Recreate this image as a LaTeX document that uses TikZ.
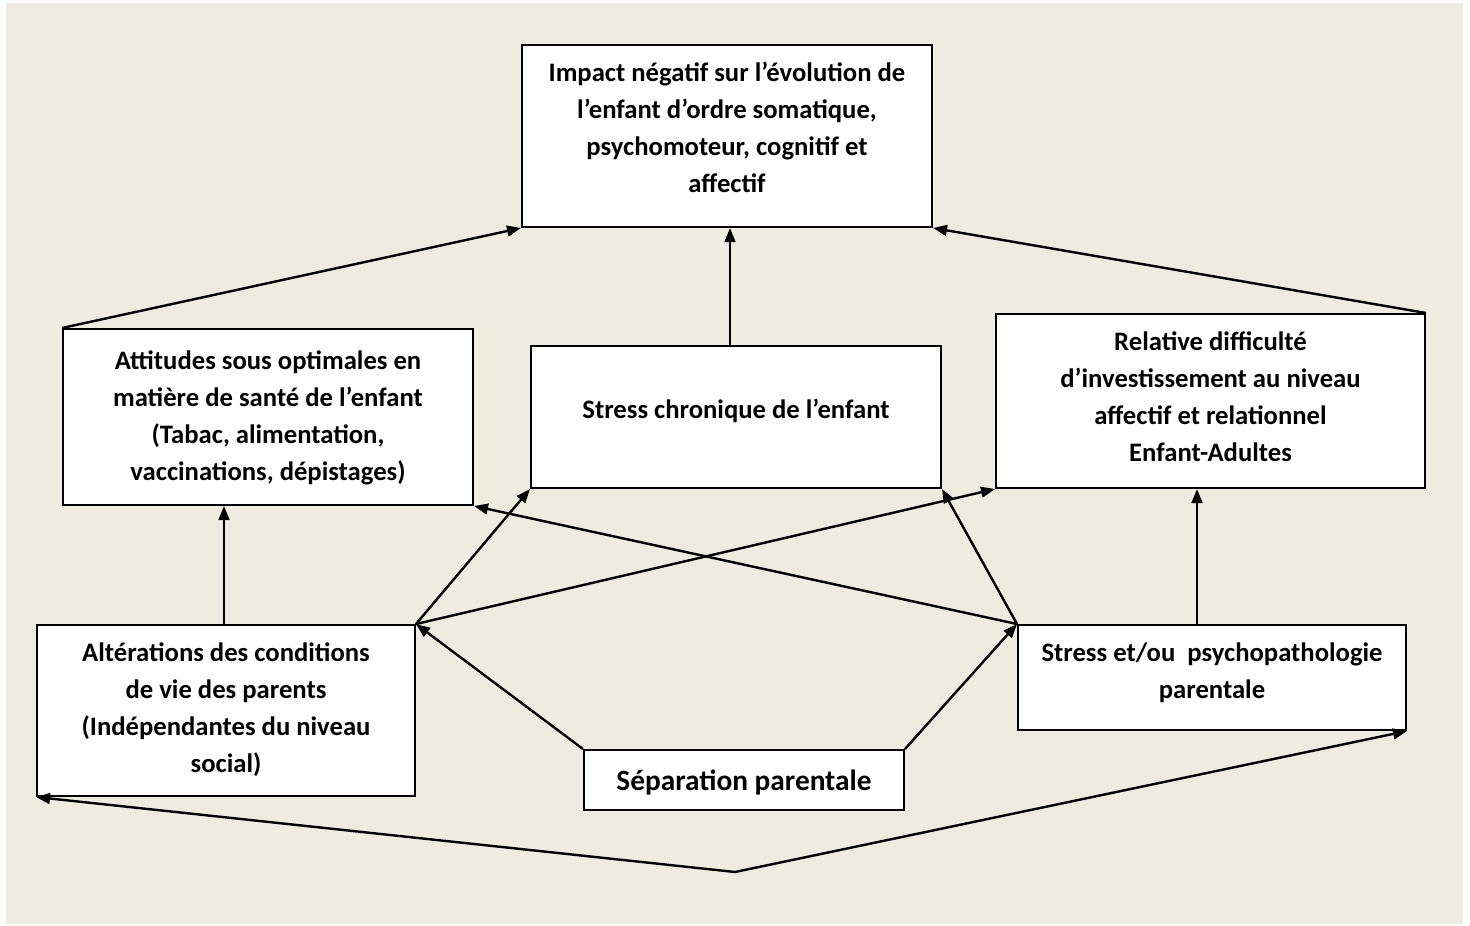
\documentclass[tikz,border=0pt]{standalone}
\usepackage{fontspec}
\setmainfont{Carlito}
\usetikzlibrary{arrows.meta,calc}

\definecolor{paper}{RGB}{238,235,224}

% text block of a box: width, height, first baseline offset, lines
\newcommand\boxtxt[4]{\parbox[t][#2][t]{#1}{\centering\rule{0pt}{#3}#4}}

\begin{document}
\begin{tikzpicture}[x=0.75pt,y=-0.75pt,
  box/.style={draw=black,fill=white,line width=1.5pt,inner sep=0pt,
    anchor=north west,font=\fontsize{20}{27.75}\selectfont\bfseries},
  link/.style={line width=1.8pt,-{Triangle[length=10.5pt,width=8pt]}}]

% page and beige field
\useasboundingbox (0,0) rectangle (1470,925);
\fill[white] (0,0) rectangle (1470,925);
\fill[paper] (6,3) rectangle (1463,924);

% boxes
\node[box] (imp) at (521,44) {\boxtxt{307.5pt}{136.5pt}{27.5pt}{%
  Impact négatif sur l’évolution de\\l’enfant d’ordre somatique,\\psychomoteur, cognitif et\\affectif}};
\node[box] (att) at (62,328) {\boxtxt{307.5pt}{132pt}{30pt}{%
  Attitudes sous optimales en\\matière de santé de l’enfant\\(Tabac, alimentation,\\vaccinations, dépistages)}};
\node[box] (chr) at (530,345) {\boxtxt{307.5pt}{106.5pt}{54.5pt}{%
  Stress chronique de l’enfant}};
\node[box] (rel) at (995,313) {\boxtxt{321.75pt}{130.5pt}{27.5pt}{%
  Relative difficulté\\d’investissement au niveau\\affectif et relationnel\\Enfant-Adultes}};
\node[box] (alt) at (36,624) {\boxtxt{283.5pt}{128.25pt}{27.5pt}{%
  Altérations des conditions\\de vie des parents\\(Indépendantes du niveau\\social)}};
\node[box] (spp) at (1017,624) {\boxtxt{291pt}{78.75pt}{27.5pt}{%
  Stress et/ou~\ psychopathologie\\parentale}};
\node[box,font=\fontsize{22}{26}\selectfont\bfseries] (sep) at (583,749)
  {\boxtxt{240pt}{45pt}{30pt}{Séparation parentale}};

% anchor points
\coordinate (altTop) at ([xshift=-1.5pt]alt.north);
\coordinate (chrTop) at ([xshift=-4.5pt]chr.north);
\coordinate (sppTop) at ([xshift=-11.25pt]spp.north);
\coordinate (low) at (735,872);

% connectors
\draw[link] (att.north west) -- (imp.south west);
\draw[link] (chrTop) -- (chrTop |- imp.south);
\draw[link] (rel.north east) -- (imp.south east);
\draw[link] (altTop) -- (altTop |- att.south);
\draw[link] (sppTop) -- (sppTop |- rel.south);
\draw[link] (alt.north east) -- (chr.south west);
\draw[link] (alt.north east) -- (rel.south west);
\draw[link] (spp.north west) -- (att.south east);
\draw[link] (spp.north west) -- (chr.south east);
\draw[link] (sep.north west) -- (alt.north east);
\draw[link] (sep.north east) -- (spp.north west);
\draw[link] (low) -- (alt.south west);
\draw[link] (low) -- (spp.south east);
\end{tikzpicture}
\end{document}
